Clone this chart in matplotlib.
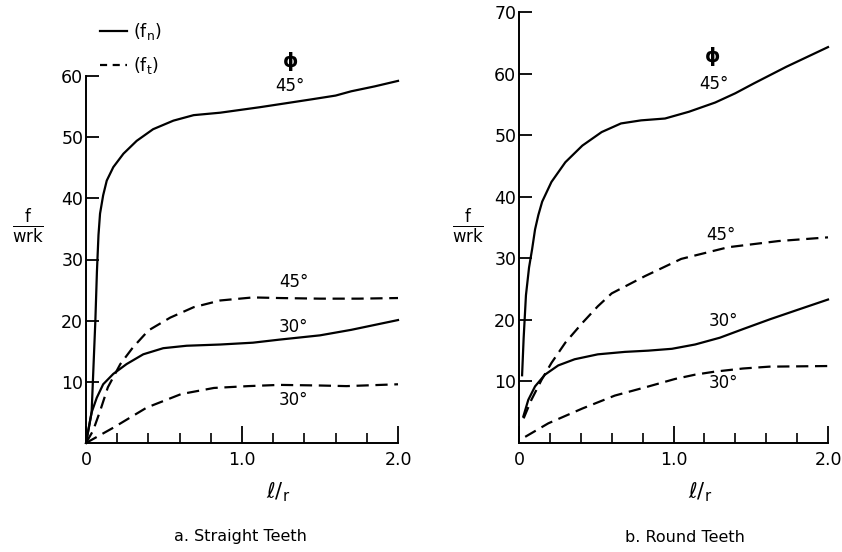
import matplotlib
matplotlib.use("Agg")
import matplotlib.pyplot as plt
from matplotlib.lines import Line2D
from matplotlib.ticker import MultipleLocator

plt.rcParams['font.family'] = ['DejaVu Sans']
plt.rcParams['mathtext.fontset'] = 'dejavusans'

# ---------------- data ----------------
# a. Straight Teeth
a_fn45_x = [0.0, 0.036, 0.06, 0.07, 0.08, 0.09, 0.11, 0.133, 0.175, 0.24, 0.325, 0.43, 0.56, 0.69,
            0.86, 1.115, 1.27, 1.45, 1.6, 1.7, 1.85, 2.0]
a_fn45_y = [0.0, 5.0, 20.0, 28.0, 34.0, 37.5, 40.5, 42.9, 45.1, 47.3, 49.4, 51.3, 52.7, 53.6,
            54.0, 54.9, 55.5, 56.2, 56.8, 57.5, 58.3, 59.2]
a_fn30_x = [0.0, 0.036, 0.069, 0.11, 0.175, 0.26, 0.367, 0.495, 0.645, 0.86, 1.07, 1.24, 1.5, 1.7, 2.0]
a_fn30_y = [0.0, 5.0, 7.4, 9.6, 11.3, 12.9, 14.5, 15.5, 15.9, 16.1, 16.4, 16.9, 17.6, 18.5, 20.1]
a_ft45_x = [0.0, 0.045, 0.09, 0.14, 0.22, 0.30, 0.40, 0.54, 0.69, 0.86, 1.07, 1.24, 1.5, 1.75, 2.0]
a_ft45_y = [0.0, 2.0, 5.2, 9.1, 12.9, 15.6, 18.4, 20.5, 22.2, 23.3, 23.8, 23.7, 23.6, 23.6, 23.7]
a_ft30_x = [0.0, 0.175, 0.39, 0.61, 0.82, 1.04, 1.24, 1.5, 1.67, 2.0]
a_ft30_y = [0.0, 2.5, 5.8, 8.0, 9.0, 9.3, 9.5, 9.4, 9.3, 9.6]

# b. Round Teeth
b_fn45_x = [0.02, 0.03, 0.045, 0.065, 0.085, 0.104, 0.125, 0.15, 0.21, 0.30, 0.41, 0.535, 0.66,
            0.79, 0.945, 1.10, 1.27, 1.40, 1.52, 1.73, 2.0]
b_fn45_y = [11.0, 17.0, 24.0, 28.5, 31.5, 34.7, 37.0, 39.2, 42.4, 45.6, 48.3, 50.5, 51.9,
            52.4, 52.7, 53.8, 55.3, 56.8, 58.4, 61.1, 64.3]
b_ft45_x = [0.03, 0.08, 0.147, 0.21, 0.30, 0.41, 0.51, 0.60, 0.815, 1.05, 1.355, 1.68, 2.0]
b_ft45_y = [4.0, 7.0, 10.3, 13.0, 16.3, 19.5, 22.2, 24.3, 27.1, 29.9, 31.8, 32.8, 33.4]
b_fn30_x = [0.028, 0.06, 0.104, 0.168, 0.254, 0.36, 0.51, 0.686, 0.837, 0.99, 1.14, 1.30, 1.45,
            1.625, 1.8, 2.0]
b_fn30_y = [4.3, 7.0, 9.2, 11.1, 12.6, 13.6, 14.4, 14.8, 15.0, 15.3, 16.0, 17.1, 18.5,
            20.1, 21.6, 23.3]
b_ft30_x = [0.04, 0.19, 0.41, 0.62, 0.84, 1.01, 1.14, 1.27, 1.45, 1.62, 2.0]
b_ft30_y = [1.0, 3.2, 5.6, 7.7, 9.2, 10.4, 11.1, 11.6, 12.1, 12.4, 12.5]

a_yticks = [10, 20, 30, 40, 50, 60]
b_yticks = [10, 20, 30, 40, 50, 60, 70]
xticks_major = [0.0, 1.0, 2.0]
xtick_labels = ["0", "1.0", "2.0"]

# ---------------- figure ----------------
fig = plt.figure(figsize=(8.42, 5.52), dpi=100)
W, H = 842, 552

def px_axes(x0, x1, y0, y1):
    return fig.add_axes([x0 / W, (H - y0) / H, (x1 - x0) / W, (y0 - y1) / H])

axA = px_axes(86, 398, 443, 76)
axB = px_axes(519, 828, 443, 12)

DASH = (5.5, 3.0)
LW = 1.6

def style(ax, ymax, yticks):
    ax.set_xlim(0, 2.0)
    ax.set_ylim(0, ymax)
    for s in ['top', 'right']:
        ax.spines[s].set_visible(False)
    for s in ['left', 'bottom']:
        ax.spines[s].set_linewidth(1.4)
    ax.set_xticks(xticks_major)
    ax.set_xticklabels(xtick_labels)
    ax.xaxis.set_minor_locator(MultipleLocator(0.2))
    ax.set_yticks(yticks)
    ax.tick_params(axis='x', which='major', direction='in', length=12, width=1.3,
                   labelsize=12.5, pad=6)
    ax.tick_params(axis='x', which='minor', direction='in', length=7, width=1.2)
    ax.tick_params(axis='y', which='major', direction='in', length=9, width=1.3,
                   labelsize=12.5, pad=2)
    ax.patch.set_alpha(0)

style(axA, 60, a_yticks)
style(axB, 70, b_yticks)

axA.plot(a_fn45_x, a_fn45_y, color='black', lw=LW, clip_on=False, solid_joinstyle='round')
axA.plot(a_fn30_x, a_fn30_y, color='black', lw=LW, clip_on=False, solid_joinstyle='round')
axA.plot(a_ft45_x, a_ft45_y, color='black', lw=LW, dashes=DASH, clip_on=False)
axA.plot(a_ft30_x, a_ft30_y, color='black', lw=LW, dashes=DASH, clip_on=False)

axB.plot(b_fn45_x, b_fn45_y, color='black', lw=LW, clip_on=False, solid_joinstyle='round')
axB.plot(b_fn30_x, b_fn30_y, color='black', lw=LW, clip_on=False, solid_joinstyle='round')
axB.plot(b_ft45_x, b_ft45_y, color='black', lw=LW, dashes=DASH, clip_on=False)
axB.plot(b_ft30_x, b_ft30_y, color='black', lw=LW, dashes=DASH, clip_on=False)

fs = 12
# curve labels, left
axA.text(1.31, 62.3, "ϕ", fontsize=14, fontweight='bold', ha='center', va='center', clip_on=False)
axA.text(1.31, 58.4, "45°", fontsize=fs, ha='center', va='center')
axA.text(1.33, 26.3, "45°", fontsize=fs, ha='center', va='center')
axA.text(1.33, 18.9, "30°", fontsize=fs, ha='center', va='center')
axA.text(1.33, 7.0, "30°", fontsize=fs, ha='center', va='center')
# curve labels, right
axB.text(1.25, 62.8, "ϕ", fontsize=14, fontweight='bold', ha='center', va='center')
axB.text(1.26, 58.3, "45°", fontsize=fs, ha='center', va='center')
axB.text(1.31, 33.8, "45°", fontsize=fs, ha='center', va='center')
axB.text(1.32, 19.8, "30°", fontsize=fs, ha='center', va='center')
axB.text(1.32, 9.8, "30°", fontsize=fs, ha='center', va='center')

# legend
def fx(x):
    return x / W
def fy(y):
    return (H - y) / H

fig.add_artist(Line2D([fx(100), fx(127)], [fy(31), fy(31)], color='black', lw=LW))
fig.add_artist(Line2D([fx(100), fx(127)], [fy(65), fy(65)], color='black', lw=LW, dashes=(3.2, 2.5)))
fig.text(fx(133), fy(32), r"$(\mathrm{f}_\mathrm{n})$", fontsize=12.5, ha='left', va='center')
fig.text(fx(133), fy(66), r"$(\mathrm{f}_\mathrm{t})$", fontsize=12.5, ha='left', va='center')

# y labels f/wrk
for xc in (28, 468):
    fig.text(fx(xc), fy(226), r"$\frac{\mathrm{f}}{\mathrm{wrk}}$", fontsize=17,
             ha='center', va='center')

# x labels l/r
fig.text(fx(278), fy(492), r"$\ell/_{\mathrm{r}}$", fontsize=15, ha='center', va='center')
fig.text(fx(700), fy(492), r"$\ell/_{\mathrm{r}}$", fontsize=15, ha='center', va='center')

# captions
fig.text(fx(240), fy(537), "a. Straight Teeth", fontsize=11.5, ha='center', va='center')
fig.text(fx(685), fy(537), "b. Round Teeth", fontsize=11.5, ha='center', va='center')

fig.savefig("out.png", dpi=100, facecolor='white')
